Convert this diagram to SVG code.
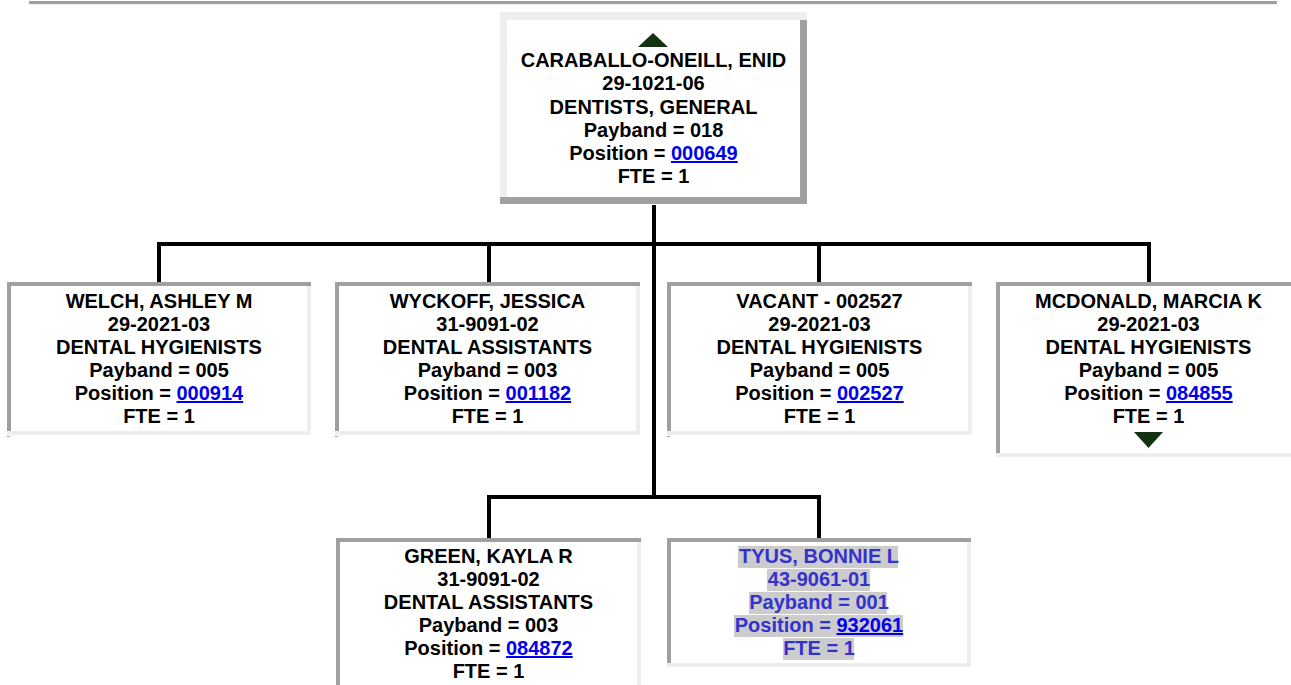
<svg xmlns="http://www.w3.org/2000/svg" width="1291" height="685" viewBox="0 0 1291 685">
<style>
.t{font-family:"Liberation Sans",Arial,sans-serif;font-size:20px;font-weight:bold;text-anchor:middle;fill:#000}
.lk{fill:#0000ee;text-decoration:underline}
.dk{fill:#a0a0a0}
.lt{fill:#eeeeee}
.wh{fill:#ffffff}
.conn{fill:none;stroke:#000;stroke-width:4;stroke-linejoin:miter}
.tri{fill:#123312}
.hl{fill:#cccccc}
.ty{fill:#3333cc}
</style>
<rect width="1291" height="685" fill="#fff"/>
<rect x="29" y="1" width="1248" height="3" class="dk"/>
<rect x="29" y="4" width="1249" height="1" class="lt"/>

<g id="connectors">
<path class="conn" d="M654,205 V497"/>
<path class="conn" d="M159,282 V244 H1149 V282"/>
<path class="conn" d="M489,244 V282"/>
<path class="conn" d="M819,244 V282"/>
<path class="conn" d="M489,538 V497 H819 V538"/>
</g>

<g id="node-caraballo">
<rect x="500" y="12" width="307" height="192" class="lt"/>
<rect x="507" y="20" width="293" height="177" class="wh"/>
<rect x="800" y="20" width="7" height="184" class="dk"/>
<rect x="500" y="197" width="307" height="7" class="dk"/>
<polygon class="tri" points="638,47 668,47 653,33"/>
<text class="t" x="653.5" y="67">CARABALLO-ONEILL, ENID</text>
<text class="t" x="653.5" y="90">29-1021-06</text>
<text class="t" x="653.5" y="113.5">DENTISTS, GENERAL</text>
<text class="t" x="653.5" y="137">Payband = 018</text>
<text class="t" x="653.5" y="160">Position = <tspan class="lk">000649</tspan></text>
<text class="t" x="653.5" y="183">FTE = 1</text>
</g>

<g id="node-welch">
<rect x="7" y="282" width="304" height="153" class="lt"/>
<rect x="11" y="286" width="296" height="145" class="wh"/>
<rect x="7" y="282" width="304" height="4" class="dk"/>
<rect x="7" y="282" width="4" height="149" class="dk"/>
<rect x="7" y="436" width="3" height="1" class="dk"/>
<text class="t" x="159" y="308">WELCH, ASHLEY M</text>
<text class="t" x="159" y="331">29-2021-03</text>
<text class="t" x="159" y="354">DENTAL HYGIENISTS</text>
<text class="t" x="159" y="377">Payband = 005</text>
<text class="t" x="159" y="400">Position = <tspan class="lk">000914</tspan></text>
<text class="t" x="159" y="423">FTE = 1</text>
</g>

<g id="node-wyckoff">
<rect x="335" y="282" width="305" height="153" class="lt"/>
<rect x="339" y="286" width="297" height="145" class="wh"/>
<rect x="335" y="282" width="305" height="4" class="dk"/>
<rect x="335" y="282" width="4" height="149" class="dk"/>
<rect x="335" y="436" width="3" height="1" class="dk"/>
<text class="t" x="487.5" y="308">WYCKOFF, JESSICA</text>
<text class="t" x="487.5" y="331">31-9091-02</text>
<text class="t" x="487.5" y="354">DENTAL ASSISTANTS</text>
<text class="t" x="487.5" y="377">Payband = 003</text>
<text class="t" x="487.5" y="400">Position = <tspan class="lk">001182</tspan></text>
<text class="t" x="487.5" y="423">FTE = 1</text>
</g>

<g id="node-vacant">
<rect x="667" y="282" width="305" height="153" class="lt"/>
<rect x="671" y="286" width="297" height="145" class="wh"/>
<rect x="667" y="282" width="305" height="4" class="dk"/>
<rect x="667" y="282" width="4" height="149" class="dk"/>
<rect x="667" y="436" width="3" height="1" class="dk"/>
<text class="t" x="819.5" y="308">VACANT - 002527</text>
<text class="t" x="819.5" y="331">29-2021-03</text>
<text class="t" x="819.5" y="354">DENTAL HYGIENISTS</text>
<text class="t" x="819.5" y="377">Payband = 005</text>
<text class="t" x="819.5" y="400">Position = <tspan class="lk">002527</tspan></text>
<text class="t" x="819.5" y="423">FTE = 1</text>
</g>

<g id="node-mcdonald">
<rect x="996" y="282" width="305" height="175" class="lt"/>
<rect x="1000" y="286" width="297" height="167" class="wh"/>
<rect x="996" y="282" width="305" height="4" class="dk"/>
<rect x="996" y="282" width="4" height="171" class="dk"/>
<text class="t" x="1148.5" y="308">MCDONALD, MARCIA K</text>
<text class="t" x="1148.5" y="331">29-2021-03</text>
<text class="t" x="1148.5" y="354">DENTAL HYGIENISTS</text>
<text class="t" x="1148.5" y="377">Payband = 005</text>
<text class="t" x="1148.5" y="400">Position = <tspan class="lk">084855</tspan></text>
<text class="t" x="1148.5" y="423">FTE = 1</text>
<polygon class="tri" points="1134,432 1163,432 1148.5,448"/>
</g>

<g id="node-green">
<rect x="336" y="538" width="305" height="160" class="lt"/>
<rect x="340" y="542" width="297" height="152" class="wh"/>
<rect x="336" y="538" width="305" height="4" class="dk"/>
<rect x="336" y="538" width="4" height="156" class="dk"/>
<text class="t" x="488.5" y="563">GREEN, KAYLA R</text>
<text class="t" x="488.5" y="586">31-9091-02</text>
<text class="t" x="488.5" y="609">DENTAL ASSISTANTS</text>
<text class="t" x="488.5" y="632">Payband = 003</text>
<text class="t" x="488.5" y="655">Position = <tspan class="lk">084872</tspan></text>
<text class="t" x="488.5" y="678">FTE = 1</text>
</g>

<g id="node-tyus">
<rect x="667" y="538" width="304" height="129" class="lt"/>
<rect x="671" y="542" width="296" height="121" class="wh"/>
<rect x="667" y="538" width="304" height="4" class="dk"/>
<rect x="667" y="538" width="4" height="125" class="dk"/>
<rect x="738" y="546" width="160" height="22" class="hl"/>
<rect x="767" y="569" width="103" height="22" class="hl"/>
<rect x="749" y="592" width="138" height="22" class="hl"/>
<rect x="734" y="615" width="169" height="22" class="hl"/>
<rect x="783" y="638" width="71" height="22" class="hl"/>
<text class="t ty" x="819" y="563">TYUS, BONNIE L</text>
<text class="t ty" x="819" y="586">43-9061-01</text>
<text class="t ty" x="819" y="609">Payband = 001</text>
<text class="t ty" x="819" y="632">Position = <tspan class="lk">932061</tspan></text>
<text class="t ty" x="819" y="655">FTE = 1</text>
</g>
</svg>
